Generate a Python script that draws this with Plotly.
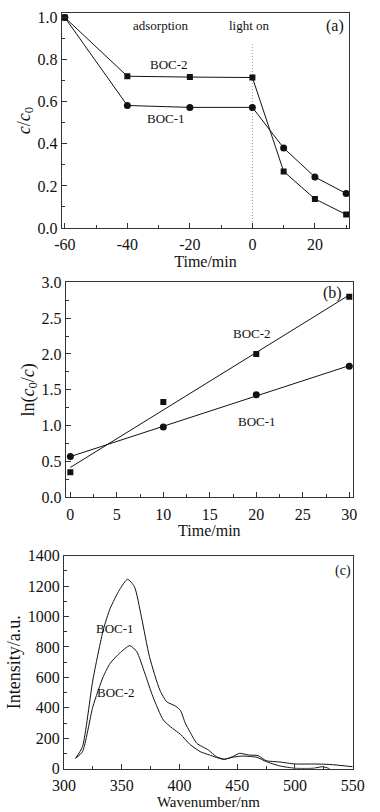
import numpy as np
import plotly.graph_objects as go

# ---------- Panel (a) data ----------
time_a = [-60, -40, -20, 0, 10, 20, 30]
boc1_a = [1.0, 0.582, 0.573, 0.573, 0.380, 0.242, 0.164]
boc2_a = [1.0, 0.721, 0.717, 0.715, 0.269, 0.138, 0.064]
time_a_ticks = [-60, -40, -20, 0, 20]
light_on_time = 0
light_line_top = 0.873

# ---------- Panel (b) data ----------
time_b = [0, 10, 20, 30]
boc1_b = [0.57, 0.98, 1.43, 1.83]
boc2_b = [0.35, 1.33, 2.0, 2.8]

# ---------- Panel (c) data ----------
wl_boc1 = [310, 316, 325, 334, 340, 348, 355, 361, 367, 374, 383, 389, 397, 401, 405,
           409, 415, 425, 432, 439, 446, 452, 460, 468, 475, 487, 500, 516, 530, 550]
int_boc1 = [68, 145, 583, 912, 1054, 1175, 1245, 1196, 999, 736, 517, 440, 410, 380, 300,
            243, 167, 123, 79, 62, 79, 101, 90, 86, 53, 44, 31, 31, 28, 13]
wl_boc2 = [310, 316, 325, 334, 340, 348, 357, 363, 370, 377, 386, 394, 401, 409, 418,
           426, 438, 446, 454, 467, 475, 487, 500, 516, 524, 530]
int_boc2 = [68, 112, 408, 605, 693, 758, 809, 769, 627, 473, 320, 265, 225, 160, 112,
            90, 62, 75, 83, 75, 47, 18, 3, 3, 13, 0]

FONT = "Liberation Serif"
BLACK = "#111111"
FRAME = "#333333"

fig = go.Figure()

# Panel (a)
fig.add_trace(go.Scatter(x=[light_on_time, light_on_time], y=[0, light_line_top], mode="lines",
                         line=dict(color="#999999", width=1, dash="1px,2px"),
                         xaxis="x", yaxis="y", showlegend=False, hoverinfo="skip"))
fig.add_trace(go.Scatter(x=time_a, y=boc2_a, mode="lines+markers", name="BOC-2",
                         line=dict(color=BLACK, width=1),
                         marker=dict(symbol="square", size=6, color=BLACK),
                         xaxis="x", yaxis="y", showlegend=False))
fig.add_trace(go.Scatter(x=time_a, y=boc1_a, mode="lines+markers", name="BOC-1",
                         line=dict(color=BLACK, width=1),
                         marker=dict(symbol="circle", size=7, color=BLACK),
                         xaxis="x", yaxis="y", showlegend=False))

# Panel (b): markers + linear fits
tb = np.array(time_b, dtype=float)
for vals, sym, sz, nm in [(boc2_b, "square", 6, "BOC-2"), (boc1_b, "circle", 7, "BOC-1")]:
    k, b = np.polyfit(tb, np.array(vals), 1)
    fig.add_trace(go.Scatter(x=[tb.min(), tb.max()], y=[k * tb.min() + b, k * tb.max() + b],
                             mode="lines", line=dict(color=BLACK, width=1),
                             xaxis="x2", yaxis="y2", showlegend=False))
    fig.add_trace(go.Scatter(x=time_b, y=vals, mode="markers", name=nm,
                             marker=dict(symbol=sym, size=sz, color=BLACK),
                             xaxis="x2", yaxis="y2", showlegend=False))

# Panel (c)
fig.add_trace(go.Scatter(x=wl_boc1, y=int_boc1, mode="lines", name="BOC-1",
                         line=dict(color=BLACK, width=1, shape="spline", smoothing=0.6),
                         xaxis="x3", yaxis="y3", showlegend=False))
fig.add_trace(go.Scatter(x=wl_boc2, y=int_boc2, mode="lines", name="BOC-2",
                         line=dict(color=BLACK, width=1, shape="spline", smoothing=0.6),
                         xaxis="x3", yaxis="y3", showlegend=False))

W, H = 380, 812


def xd(a, b):
    return [a / W, b / W]


def yd(top, bottom):
    return [1 - bottom / H, 1 - top / H]


common = dict(showgrid=False, zeroline=False, showline=True, linecolor=FRAME, linewidth=1,
              mirror=True, ticks="inside", ticklen=5, tickwidth=1, tickcolor=FRAME,
              automargin=False,
              tickfont=dict(family=FONT, size=16, color=BLACK))
xcommon = dict(common, ticklabelstandoff=2,
               title_font=dict(family=FONT, size=16, color=BLACK))
ycommon = dict(common, title_font=dict(family=FONT, size=18, color=BLACK))

fig.update_layout(
    template="none",
    width=W, height=H, margin=dict(l=0, r=0, t=0, b=0),
    paper_bgcolor="white", plot_bgcolor="white",
    font=dict(family=FONT, color=BLACK),
    xaxis=dict(xcommon, domain=xd(61.7, 349.3), anchor="y", range=[-61, 31],
               tickvals=time_a_ticks, ticktext=[str(v) for v in time_a_ticks],
               minor=dict(ticks="inside", ticklen=3, dtick=10, tick0=0, tickcolor=FRAME),
               title=dict(text="Time/min", standoff=0)),
    yaxis=dict(ycommon, domain=yd(13.3, 228), anchor="x", range=[0, 1.02],
               dtick=0.2, tickformat=".1f",
               minor=dict(ticks="inside", ticklen=3, dtick=0.1, tickcolor=FRAME),
               title=dict(text="<i>c</i>/<i>c</i><sub>0</sub>", standoff=2)),
    xaxis2=dict(xcommon, domain=xd(65.7, 353), anchor="y2", range=[-0.5, 30.4],
                dtick=5, tick0=0,
                minor=dict(ticks="inside", ticklen=3, dtick=2.5, tick0=0, tickcolor=FRAME),
                title=dict(text="Time/min", standoff=0)),
    yaxis2=dict(ycommon, domain=yd(282.3, 497.3), anchor="x2", range=[0, 3.0],
                dtick=0.5, tickformat=".1f",
                minor=dict(ticks="inside", ticklen=3, dtick=0.25, tickcolor=FRAME),
                title=dict(text="ln(<i>c</i><sub>0</sub>/<i>c</i>)", standoff=2)),
    xaxis3=dict(xcommon, domain=xd(64, 352.7), anchor="y3", range=[300, 550],
                dtick=50,
                minor=dict(ticks="inside", ticklen=3, dtick=25, tickcolor=FRAME),
                title=dict(text="Wavenumber/nm", standoff=0,
                           font=dict(family=FONT, size=15, color=BLACK))),
    yaxis3=dict(ycommon, domain=yd(555.7, 768.7), anchor="x3", range=[0, 1400],
                dtick=200,
                minor=dict(ticks="inside", ticklen=3, dtick=100, tickcolor=FRAME),
                title=dict(text="Intensity/a.u.", standoff=2)),
)

ann_small = dict(family=FONT, size=13, color=BLACK)
ann_big = dict(family=FONT, size=16, color=BLACK)
annotations = [
    dict(x=-29.5, y=0.96, xref="x", yref="y", text="adsorption", font=ann_small),
    dict(x=-1, y=0.96, xref="x", yref="y", text="light on", font=ann_small),
    dict(x=26.5, y=0.96, xref="x", yref="y", text="(a)", font=ann_big),
    dict(x=-26.6, y=0.777, xref="x", yref="y", text="BOC-2", font=ann_small),
    dict(x=-27.6, y=0.52, xref="x", yref="y", text="BOC-1", font=ann_small),
    dict(x=28.2, y=2.85, xref="x2", yref="y2", text="(b)", font=ann_big),
    dict(x=19.5, y=2.29, xref="x2", yref="y2", text="BOC-2", font=ann_small),
    dict(x=20.05, y=1.055, xref="x2", yref="y2", text="BOC-1", font=ann_small),
    dict(x=542, y=1300, xref="x3", yref="y3", text="(c)", font=dict(family=FONT, size=14, color=BLACK)),
    dict(x=344, y=920, xref="x3", yref="y3", text="BOC-1", font=ann_small),
    dict(x=345, y=500, xref="x3", yref="y3", text="BOC-2", font=ann_small),
]
for a in annotations:
    a.update(showarrow=False, xanchor="center", yanchor="middle")
fig.update_layout(annotations=annotations)

fig.write_html("out.html", config={"displayModeBar": False},
               post_script="document.body.style.margin='0';document.body.style.padding='0';")
